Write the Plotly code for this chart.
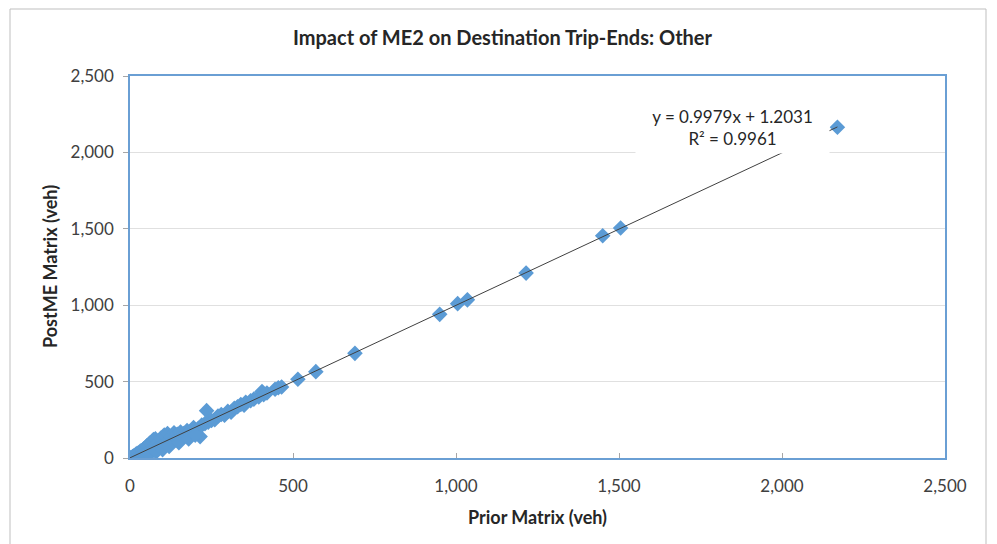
import plotly.graph_objects as go

prior = [0, 2, 5, 8, 10, 12, 15, 18, 20, 22, 25, 28, 30, 32, 35, 38, 40, 42, 45, 48,
         50, 52, 55, 58, 60, 62, 65, 68, 70, 72, 75, 78, 80, 85, 90, 95, 100, 105, 110, 115,
         120, 125, 130, 135, 140, 145, 150, 155, 160, 165, 170, 175, 180, 185, 190, 195, 200,
         210, 215, 220, 230, 235, 240, 250, 260, 270, 280, 290, 300, 310, 320, 330, 340, 350,
         355, 370, 380, 395, 405, 410, 420, 445, 455, 465, 515, 570, 690, 950, 1005, 1035,
         1215, 1450, 1505, 2170,
         40, 60, 80, 100, 120, 150, 180, 200]
post = [0, 3, 2, 10, 6, 15, 12, 25, 14, 30, 20, 35, 22, 45, 28, 50, 33, 60, 38, 70,
        42, 80, 48, 90, 55, 100, 58, 110, 65, 120, 68, 125, 72, 100, 80, 130, 88, 150, 95, 160,
        110, 140, 115, 165, 120, 155, 135, 170, 140, 160, 150, 180, 165, 175, 170, 200, 185,
        195, 140, 215, 225, 310, 235, 245, 250, 275, 285, 280, 305, 300, 325, 335, 350, 345,
        365, 375, 385, 400, 435, 415, 425, 450, 460, 465, 515, 565, 685, 940, 1010, 1035,
        1210, 1455, 1505, 2165,
        15, 25, 40, 55, 75, 100, 125, 150]

slope = 0.9979
intercept = 1.2031
r2 = 0.9961
tick_vals = [0, 500, 1000, 1500, 2000, 2500]

W, H = 989, 536
L, R, T, B = 122, 937, 68, 450   # plot area edges in figure pixels
PW, PH = R - L, B - T

def px(xp):
    return (xp - L) / PW

def py(yp):
    return (B - yp) / PH

font_fam = "Lato"
fig = go.Figure()
fig.add_trace(go.Scatter(
    x=prior, y=post, mode="markers",
    marker=dict(symbol="diamond", size=12, color="#5B9BD5", line=dict(width=0)),
    showlegend=False, hoverinfo="x+y"))
x0, x1 = min(prior), max(prior)
fig.add_trace(go.Scatter(
    x=[x0, x1], y=[slope * x0 + intercept, slope * x1 + intercept],
    mode="lines", line=dict(color="#404040", width=1), showlegend=False))

fig.add_annotation(x=1847, y=2160, xref="x", yref="y",
                   text=f"y = {slope}x + {intercept}<br>R² = {r2}",
                   showarrow=False, bgcolor="white", borderpad=4,
                   font=dict(family=font_fam, size=17, color="#262626"),
                   align="center", width=185)

fig.add_annotation(x=0.5, y=py(509), xref="paper", yref="paper",
                   text="<b>Prior Matrix (veh)</b>", showarrow=False,
                   xanchor="center", yanchor="middle",
                   font=dict(family=font_fam, size=18, color="#262626"))
fig.add_annotation(x=px(42), y=0.5, xref="paper", yref="paper",
                   text="<b>PostME Matrix (veh)</b>", showarrow=False, textangle=-90,
                   xanchor="center", yanchor="middle",
                   font=dict(family=font_fam, size=18, color="#262626"))

fig.update_layout(
    width=W, height=H,
    margin=dict(l=L, r=W - R, t=T, b=H - B),
    paper_bgcolor="white", plot_bgcolor="white",
    title=dict(text="<b>Impact of ME2 on Destination Trip-Ends: Other</b>",
               x=0.5, xanchor="center", y=1 - 30 / H, yanchor="middle",
               font=dict(family=font_fam, size=20, color="#262626")),
    font=dict(family=font_fam, size=17, color="#404040"),
    xaxis=dict(range=[0, 2500], tickvals=tick_vals, tickformat=",d",
               showgrid=False, zeroline=False, automargin=False,
               showline=True, linecolor="#6A9FD4", linewidth=1.5, mirror=True,
               ticks="inside", ticklen=5, tickcolor="#A6A6A6", ticklabelstandoff=12,
               tickfont=dict(family=font_fam, size=17, color="#404040")),
    yaxis=dict(range=[0, 2500], tickvals=tick_vals, tickformat=",d",
               showgrid=True, gridcolor="#E0E0E0", zeroline=False, automargin=False,
               showline=True, linecolor="#6A9FD4", linewidth=1.5, mirror=True,
               ticks="outside", ticklen=5, tickcolor="#A6A6A6", ticklabelstandoff=6,
               tickfont=dict(family=font_fam, size=17, color="#404040")),
)

fig.add_shape(type="rect", xref="paper", yref="paper",
              x0=px(2), x1=px(978), y0=py(570), y1=py(1),
              line=dict(color="#BFBFBF", width=1), layer="below")

fig.write_html("out.html")
